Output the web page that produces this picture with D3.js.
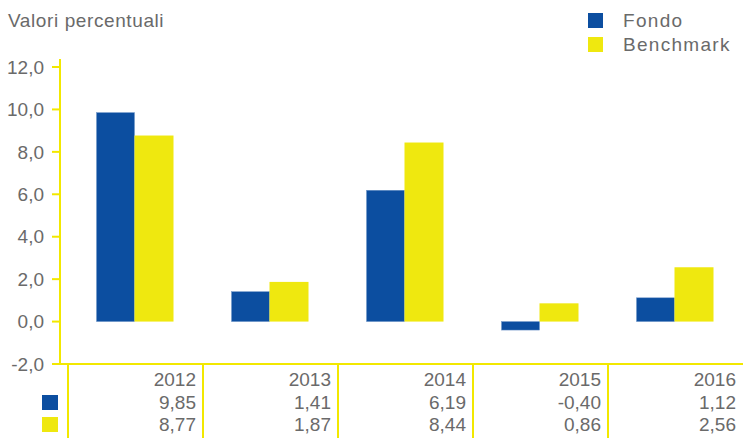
<!DOCTYPE html>
<html>
<head>
<meta charset="utf-8">
<script src="https://cdn.jsdelivr.net/npm/d3@7"></script>
<style>
  body { margin: 0; background: #fff; }
  text { font-family: "Liberation Sans", Arial, sans-serif; fill: #6a6a6a; }
</style>
</head>
<body>
<svg id="chart" width="743" height="438"></svg>
<script>
const years = ["2012", "2013", "2014", "2015", "2016"];
const fondo = [9.85, 1.41, 6.19, -0.40, 1.12];
const benchmark = [8.77, 1.87, 8.44, 0.86, 2.56];
const yTicks = [-2, 0, 2, 4, 6, 8, 10, 12];
const seriesNames = ["Fondo", "Benchmark"];

const blue = "#0c4ea0";
const yellow = "#efe80f";
const axisCol = "#f2e800";
const fs = 19;
const fmt = (v) => v.toFixed(2).replace(".", ",");
const fmtTick = (v) => v.toFixed(1).replace(".", ",");

const svg = d3.select("#chart");

const x = d3.scaleBand(years, [68, 743]);
const y = d3.scaleLinear([-2, 12], [364, 67]);
const barW = 38;

// title
svg.append("text")
  .attr("x", 8).attr("y", 27)
  .attr("font-size", fs).attr("letter-spacing", 0.6)
  .text("Valori percentuali");

// legend top right
const leg = svg.append("g").attr("transform", "translate(588,13)");
[blue, yellow].forEach((c, i) => {
  leg.append("rect").attr("x", 0).attr("y", i * 24).attr("width", 15).attr("height", 15).attr("fill", c);
  leg.append("text").attr("x", 35).attr("y", i * 24 + 14).attr("font-size", fs).attr("letter-spacing", 1.3).text(seriesNames[i]);
});

// y axis
svg.append("line")
  .attr("x1", 60).attr("x2", 60).attr("y1", 59).attr("y2", 364)
  .attr("stroke", axisCol).attr("stroke-width", 2);

const yt = svg.append("g").selectAll("g").data(yTicks).join("g")
  .attr("transform", (d) => `translate(0,${y(d)})`);
yt.append("line").attr("x1", 52).attr("x2", 60).attr("stroke", axisCol).attr("stroke-width", 2);
yt.append("text")
  .attr("x", 44).attr("dy", "0.35em")
  .attr("text-anchor", "end").attr("font-size", fs)
  .text(fmtTick);

// bars
const groups = svg.append("g").selectAll("g").data(years).join("g")
  .attr("transform", (d) => `translate(${x(d) + x.bandwidth() / 2 - barW - 1},0)`);

groups.append("rect")
  .attr("x", 0)
  .attr("y", (d, i) => y(Math.max(0, fondo[i])))
  .attr("width", barW)
  .attr("height", (d, i) => Math.abs(y(fondo[i]) - y(0)))
  .attr("fill", blue)
  .attr("stroke", "#6f95c8").attr("stroke-width", 0.5);

groups.append("rect")
  .attr("x", barW)
  .attr("y", (d, i) => y(Math.max(0, benchmark[i])))
  .attr("width", barW + 1)
  .attr("height", (d, i) => Math.abs(y(benchmark[i]) - y(0)))
  .attr("fill", yellow);

// table
svg.append("line")
  .attr("x1", 52).attr("x2", 743).attr("y1", 364).attr("y2", 364)
  .attr("stroke", axisCol).attr("stroke-width", 2);

svg.append("g").selectAll("line").data(years).join("line")
  .attr("x1", (d) => x(d)).attr("x2", (d) => x(d))
  .attr("y1", 364).attr("y2", 438)
  .attr("stroke", axisCol).attr("stroke-width", 2);

const rows = [years, fondo.map(fmt), benchmark.map(fmt)];
const rowY = [386, 409, 431];
rows.forEach((row, r) => {
  svg.append("g").selectAll("text").data(row).join("text")
    .attr("x", (d, i) => x(years[i]) + x.bandwidth() - 7)
    .attr("y", rowY[r])
    .attr("text-anchor", "end").attr("font-size", fs)
    .text((d) => d);
});

[blue, yellow].forEach((c, i) => {
  svg.append("rect")
    .attr("x", 42).attr("y", 395 + i * 22).attr("width", 16).attr("height", 15)
    .attr("fill", c);
});
</script>
</body>
</html>
